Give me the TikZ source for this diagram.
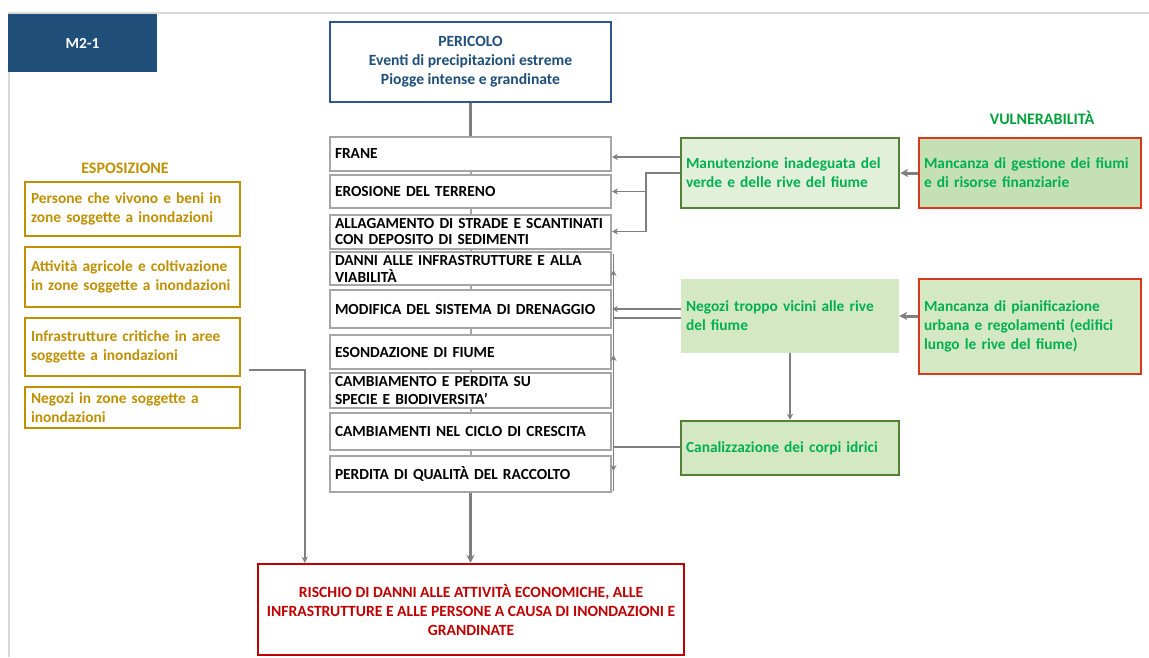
\documentclass[tikz,border=0pt]{standalone}
\usepackage{fontspec}
\setmainfont{Carlito}
\usetikzlibrary{arrows.meta,calc}
\definecolor{blueD}{HTML}{1F4E79}
\definecolor{blueB}{HTML}{2F5597}
\definecolor{goldC}{HTML}{BF9000}
\definecolor{greenT}{HTML}{00B050}
\definecolor{greenV}{HTML}{00A03C}
\definecolor{greenB}{HTML}{548235}
\definecolor{greenF1}{HTML}{E2F0D9}
\definecolor{greenF2}{HTML}{C5E0B4}
\definecolor{greenF3}{HTML}{D5E8C4}
\definecolor{redV}{HTML}{D9381E}
\definecolor{redR}{HTML}{C00000}
\definecolor{cgray}{HTML}{A6A6A6}
\definecolor{lgray}{HTML}{D9D9D9}
\definecolor{agray}{HTML}{7F7F7F}
\begin{document}
\begin{tikzpicture}[x=1pt,y=-1pt,
  cbox/.style={draw=cgray, line width=2pt, fill=white, text=black,
    font=\bfseries\fontsize{15.4}{18}\selectfont, align=left,
    text width=271pt, inner xsep=5pt, inner ysep=0pt, minimum width=281pt},
  ebox/.style={draw=goldC, line width=2.5pt, fill=white, text=goldC,
    font=\bfseries\fontsize{15.4}{19}\selectfont, align=left,
    text width=203pt, inner xsep=6pt, inner ysep=0pt, minimum width=215pt},
  gbox/.style={text=greenT, font=\bfseries\fontsize{15.4}{19}\selectfont, align=left,
    inner xsep=5pt, inner ysep=0pt},
  vbox/.style={gbox, draw=redV, line width=2.5pt, fill=greenF3,
    text width=212pt, minimum width=222pt},
  conn/.style={draw=agray, line width=1.5pt},
  arr/.style={conn, -{Stealth[length=6pt,width=6pt]}},
  thick arr/.style={draw=agray, line width=3pt, -{Stealth[length=8pt,width=8pt]}},
  stub/.style={draw=cgray, line width=2pt}]
\useasboundingbox (0,0) rectangle (1149,657);
% frame lines
\draw[lgray, line width=2pt] (8,13) -- (1149,13);
\draw[lgray, line width=1.2pt] (9,72) -- (9,657);
% title
\node[fill=blueD, minimum width=149pt, minimum height=58pt, inner sep=0pt,
  text=white, font=\bfseries\fontsize{15.4}{18}\selectfont] (title) at (82.5,43) {M2-1};
% hazard
\node[draw=blueB, line width=2.5pt, fill=white, text=blueD, align=center,
  font=\bfseries\fontsize{15.6}{19}\selectfont, minimum width=281pt, minimum height=80pt]
  (haz) at (470.5,62) {PERICOLO\\Eventi di precipitazioni estreme\\Piogge intense e grandinate};
% central impacts
\node[cbox, minimum height=34pt] (frane) at (470.5,154) {FRANE};
\node[cbox, minimum height=33pt] (eros) at (470.5,191.5) {EROSIONE DEL TERRENO};
\node[cbox, minimum height=34pt, font=\bfseries\fontsize{15.4}{15.5}\selectfont] (allag) at (470.5,231.5) {ALLAGAMENTO DI STRADE E SCANTINATI\\CON DEPOSITO DI SEDIMENTI};
\node[cbox, minimum height=33pt, font=\bfseries\fontsize{15.4}{17}\selectfont] (danni) at (470.5,268.5) {DANNI ALLE INFRASTRUTTURE E ALLA\\VIABILITÀ};
\node[cbox, minimum height=38pt] (modif) at (470.5,309) {MODIFICA DEL SISTEMA DI DRENAGGIO};
\node[cbox, minimum height=34pt] (esond) at (470.5,352) {ESONDAZIONE DI FIUME};
\node[cbox, minimum height=35pt] (camb) at (470.5,390.5) {CAMBIAMENTO E PERDITA SU\\SPECIE E BIODIVERSITA’};
\node[cbox, minimum height=37pt] (ciclo) at (470.5,431.5) {CAMBIAMENTI NEL CICLO DI CRESCITA};
\node[cbox, minimum height=36pt] (perd) at (470.5,474) {PERDITA DI QUALITÀ DEL RACCOLTO};
% risk
\node[draw=redR, line width=2.5pt, fill=white, text=redR, align=center,
  font=\bfseries\fontsize{15.6}{19}\selectfont, minimum width=426pt, minimum height=91pt]
  (risk) at (471,609.5) {RISCHIO DI DANNI ALLE ATTIVITÀ ECONOMICHE, ALLE\\INFRASTRUTTURE E ALLE PERSONE A CAUSA DI INONDAZIONI E\\GRANDINATE};
% exposure
\node[text=goldC, font=\bfseries\fontsize{16}{19}\selectfont] (explab) at (125,168) {ESPOSIZIONE};
\node[ebox, minimum height=54pt] (e1) at (132.5,209) {Persone che vivono e beni in\\zone soggette a inondazioni};
\node[ebox, minimum height=60pt] (e2) at (132.5,277) {Attività agricole e coltivazione\\in zone soggette a inondazioni};
\node[ebox, minimum height=58pt] (e3) at (132.5,347) {Infrastrutture critiche in aree\\soggette a inondazioni};
\node[ebox, minimum height=41pt] (e4) at (132.5,407.5) {Negozi in zone soggette a\\inondazioni};
% vulnerability
\node[text=greenV, font=\bfseries\fontsize{16}{19}\selectfont] (vullab) at (1042,118) {VULNERABILITÀ};
\node[gbox, draw=greenB, line width=2.5pt, fill=greenF1, text width=208pt, minimum width=218pt, minimum height=70pt] (manut) at (790,173) {Manutenzione inadeguata del\\verde e delle rive del fiume};
\node[gbox, fill=greenF3, text width=208pt, minimum width=218pt, minimum height=74pt] (negozi) at (790,316) {Negozi troppo vicini alle rive\\del fiume};
\node[gbox, draw=greenB, line width=2.5pt, fill=greenF3, text width=208pt, minimum width=218pt, minimum height=54pt] (canal) at (790,448) {Canalizzazione dei corpi idrici};
\node[vbox, fill=greenF2, minimum height=70pt] (mgest) at (1030,173) {Mancanza di gestione dei fiumi\\e di risorse finanziarie};
\node[vbox, minimum height=95pt] (mpian) at (1030,326.5) {Mancanza di pianificazione\\urbana e regolamenti (edifici\\lungo le rive del fiume)};
% central chain
\draw[draw=agray, line width=3pt] (haz.south) -- (frane.north);
\draw[stub] (frane.south) -- (eros.north);
\draw[stub] (eros.south) -- (allag.north);
\draw[stub] (allag.south) -- (danni.north);
\draw[stub] (danni.south) -- (modif.north);
\draw[stub] (modif.south) -- (esond.north);
\draw[stub] (esond.south) -- (camb.north);
\draw[stub] (camb.south) -- (ciclo.north);
\draw[stub] (ciclo.south) -- (perd.north);
\draw[thick arr] (perd.south) -- (perd.south |- risk.north);
% exposure connector
\coordinate (ex) at (249,370);
\draw[arr] (ex) -| ($(risk.north west)+(48,0)$);
% vulnerability to vulnerability
\draw[thick arr] (mgest.west) -- (manut.east);
\draw[thick arr] (mpian.west |- negozi.east) -- (negozi.east);
\draw[arr] (negozi.south) -- (canal.north);
% manutenzione connectors
\draw[arr] (manut.west |- 0,157) -- (frane.east |- 0,157);
\coordinate (j1) at (646,173);
\draw[conn] (manut.west) -- (j1) -- (j1 |- allag.east);
\draw[arr] (j1 |- eros.east) -- (eros.east);
\draw[arr] (j1 |- allag.east) -- (allag.east);
% negozi connectors
\draw[arr] (negozi.west |- modif.east) -- (modif.east);
\coordinate (b1) at (613.5,318);
\coordinate (b2) at (613.5,447);
\coordinate (btop) at (613.5,254);
\coordinate (bbot) at (613.5,491);
\draw[conn] ($(negozi.west)+(0,2)$) -- (b1);
\draw[conn] (canal.west |- b2) -- (b2);
\draw[conn] (btop) -- (bbot);
\draw[arr] (b1) -- (613.5,270);
\draw[arr] (b2) -- (613.5,355);
\draw[arr] (b2) -- (613.5,471);
\end{tikzpicture}
\end{document}
